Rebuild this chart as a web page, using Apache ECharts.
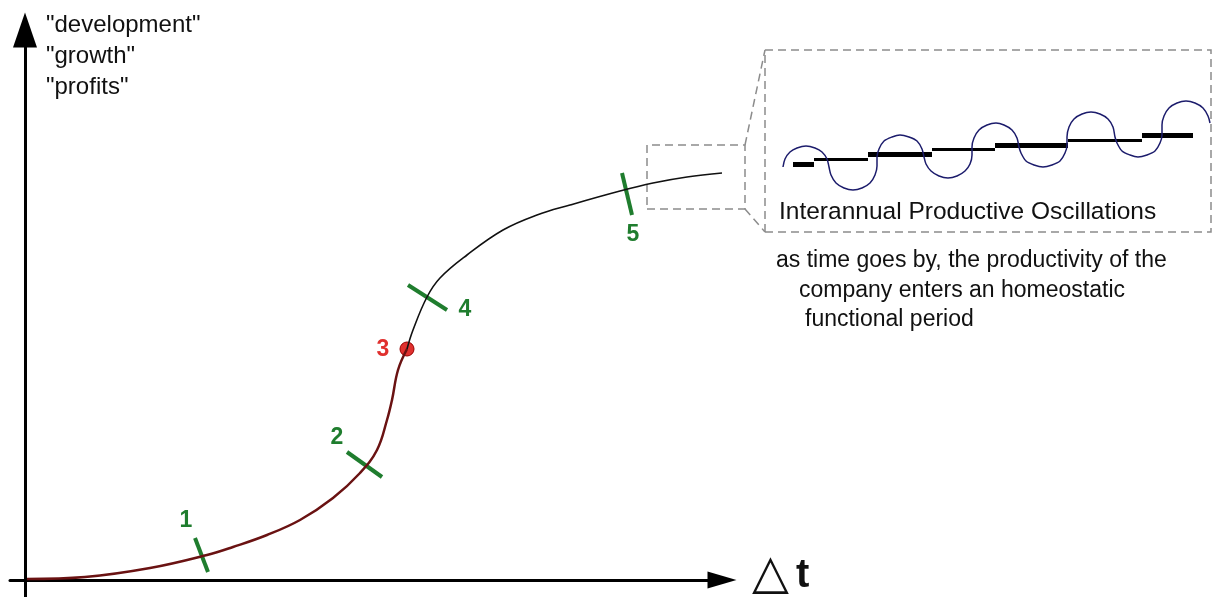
<!DOCTYPE html>
<html>
<head>
<meta charset="utf-8">
<script src="https://cdn.jsdelivr.net/npm/echarts@6/dist/echarts.min.js"></script>
<style>
html, body { margin: 0; padding: 0; background: #fff; }
#main { width: 1214px; height: 597px; }
</style>
</head>
<body>
<div id="main"></div>
<script>
// company life curve: time (x) vs development / growth / profits (y)
// units: 1 unit ~ 1 px of the original drawing, origin at the axes crossing

// rising part of the curve (start -> turning point 3)
var riseX = [2, 60, 125, 182, 208, 242, 275, 308, 335, 352, 362, 367, 373, 382];
var riseY = [1, 3, 12, 25, 33, 45, 60, 82, 107, 130, 160, 180, 210, 231];
// flattening part (turning point 3 -> end)
var plateauX = [382, 388, 402, 415, 442, 478, 512, 545, 595, 628, 662, 697];
var plateauY = [231, 250, 283, 302, 325, 350, 365, 375, 389, 397, 403, 407];

// phase marks crossing the curve: [x1, y1, x2, y2]
var phaseTicks = [
    [170, 42, 183, 8],
    [322, 128, 357, 103],
    [383, 295, 422, 270],
    [597, 407, 607, 365]
];
var phaseNames = ['1', '2', '3', '4', '5'];
var phaseLabelX = [161, 312, 358, 440, 608];
var phaseLabelY = [59, 142, 230, 270, 345];
var turningPoint = [382, 231];

// inset: interannual oscillations (chain of loops)
var waveX = [758, 760, 765, 772, 781, 790, 797, 802, 804,
             806, 811, 819, 828, 837, 845, 850, 852,
             852, 854, 859, 867, 875, 884, 892, 897, 899,
             901, 906, 914, 923, 932, 940, 945, 947,
             947, 949, 954, 962, 971, 979, 987, 992, 994,
             996, 1001, 1009, 1018, 1027, 1035, 1040, 1042,
             1042, 1044, 1049, 1057, 1066, 1075, 1083, 1088, 1090,
             1092, 1097, 1105, 1113, 1122, 1130, 1135, 1137,
             1137, 1139, 1144, 1152, 1161, 1170, 1178, 1183, 1185];
var waveY = [413, 421, 428, 432, 434, 432, 428, 421, 413,
             405, 397, 392, 390, 392, 397, 405, 414,
             423, 431, 439, 443, 445, 443, 439, 431, 423,
             416, 409, 404, 402, 404, 409, 416, 425,
             433, 442, 450, 455, 457, 455, 450, 442, 433,
             427, 419, 415, 413, 415, 419, 427, 435,
             443, 453, 461, 466, 468, 466, 461, 453, 443,
             437, 429, 425, 423, 425, 429, 437, 445,
             455, 464, 472, 477, 479, 477, 472, 464, 457];
// yearly levels: [xStart, xEnd, level]
var stepThick = [[768, 789, 416], [843, 907, 426], [970, 1043, 435], [1117, 1168, 445]];
var stepThin = [[789, 843, 421], [907, 970, 431], [1043, 1117, 440]];

// zoom frame on the curve and the enlarged frame: [x0, x1, y0, y1]
var zoomBox = [622, 720, 371, 435];
var insetBox = [740, 1186, 348, 530];

var GREEN = '#1f7d2e';
var RED = '#e0302e';
var FONT = 'Liberation Sans';

function pairs(xs, ys) {
    return xs.map(function (x, i) { return [x, ys[i]]; });
}
function rect(b) {
    return [[b[0], b[2]], [b[1], b[2]], [b[1], b[3]], [b[0], b[3]], [b[0], b[2]]];
}

var dom = document.getElementById('main');
var myChart = echarts.init(dom);

var tickData = phaseTicks.map(function (t) {
    return {coords: [[t[0], t[1]], [t[2], t[3]]]};
});
var labelData = phaseNames.map(function (n, i) {
    return {
        value: [phaseLabelX[i], phaseLabelY[i]],
        name: n,
        label: {color: n === '3' ? RED : GREEN}
    };
});
var stepData = function (arr) {
    return arr.map(function (s) { return {coords: [[s[0], s[2]], [s[1], s[2]]]}; });
};

var option = {
    animation: false,
    backgroundColor: '#fff',
    grid: [
        {left: 10, right: 492, top: 30, bottom: 0},
        {left: 0, right: 0, top: 0, bottom: 0}
    ],
    xAxis: [
        {
            type: 'value', gridIndex: 0, min: -15, max: 697,
            axisLine: {show: true, onZero: true, symbol: ['none', 'triangle'], symbolSize: [17, 29],
                lineStyle: {color: '#000', width: 3}},
            axisTick: {show: false}, axisLabel: {show: false}, splitLine: {show: false}
        },
        {type: 'value', gridIndex: 1, min: -25, max: 1189, show: false}
    ],
    yAxis: [
        {
            type: 'value', gridIndex: 0, min: -17, max: 550,
            axisLine: {show: true, onZero: true, symbol: ['none', 'triangle'], symbolSize: [24, 35],
                lineStyle: {color: '#000', width: 3}},
            axisTick: {show: false}, axisLabel: {show: false}, splitLine: {show: false}
        },
        {type: 'value', gridIndex: 1, min: -17, max: 580, show: false}
    ],
    series: [
        {
            type: 'line', xAxisIndex: 0, yAxisIndex: 0,
            data: pairs(riseX, riseY), smooth: 0.4, showSymbol: false,
            lineStyle: {color: '#6a1212', width: 2.5}
        },
        {
            type: 'line', xAxisIndex: 0, yAxisIndex: 0,
            data: pairs(plateauX, plateauY), smooth: 0.4, showSymbol: false,
            lineStyle: {color: '#111', width: 1.6}
        },
        {
            type: 'lines', coordinateSystem: 'cartesian2d', xAxisIndex: 0, yAxisIndex: 0,
            data: tickData,
            lineStyle: {color: GREEN, width: 4, opacity: 1, curveness: 0}
        },
        {
            type: 'scatter', xAxisIndex: 0, yAxisIndex: 0,
            data: [turningPoint], symbolSize: 14,
            itemStyle: {color: RED, borderColor: '#900', borderWidth: 1, opacity: 1}
        },
        {
            type: 'scatter', xAxisIndex: 0, yAxisIndex: 0,
            data: labelData, symbolSize: 1,
            itemStyle: {color: '#fff', opacity: 0},
            label: {show: true, position: 'inside', formatter: '{b}', opacity: 1,
                fontFamily: FONT, fontWeight: 'bold', fontSize: 23}
        },
        // zoom frames and connectors
        {
            type: 'lines', coordinateSystem: 'cartesian2d', xAxisIndex: 1, yAxisIndex: 1,
            polyline: true,
            data: [
                {coords: rect(zoomBox)},
                {coords: rect(insetBox)},
                {coords: [[zoomBox[1], zoomBox[3]], [insetBox[0], insetBox[3]]]},
                {coords: [[zoomBox[1], zoomBox[2]], [insetBox[0], insetBox[2]]]}
            ],
            lineStyle: {color: '#8c8c8c', width: 1.5, type: [8, 5], opacity: 1, curveness: 0}
        },
        {
            type: 'line', xAxisIndex: 1, yAxisIndex: 1,
            data: pairs(waveX, waveY), smooth: 0.3, showSymbol: false,
            lineStyle: {color: '#1c1c6c', width: 1.5}
        },
        {
            type: 'lines', coordinateSystem: 'cartesian2d', xAxisIndex: 1, yAxisIndex: 1,
            data: stepData(stepThin),
            lineStyle: {color: '#000', width: 3, opacity: 1, curveness: 0}
        },
        {
            type: 'lines', coordinateSystem: 'cartesian2d', xAxisIndex: 1, yAxisIndex: 1,
            data: stepData(stepThick),
            lineStyle: {color: '#000', width: 5, opacity: 1, curveness: 0}
        }
    ],
    graphic: [
        {
            type: 'text', left: 46, top: 10,
            style: {text: '"development"\n"growth"\n"profits"', fontFamily: FONT, fontSize: 24,
                lineHeight: 31, fill: '#111'}
        },
        {
            type: 'text', left: 779, top: 200,
            style: {text: 'Interannual Productive Oscillations', fontFamily: FONT, fontSize: 24.5, fill: '#111'}
        },
        {
            type: 'text', left: 776, top: 249,
            style: {text: 'as time goes by, the productivity of the', fontFamily: FONT, fontSize: 23, fill: '#111'}
        },
        {
            type: 'text', left: 799, top: 279,
            style: {text: 'company enters an homeostatic', fontFamily: FONT, fontSize: 23, fill: '#111'}
        },
        {
            type: 'text', left: 805, top: 308,
            style: {text: 'functional period', fontFamily: FONT, fontSize: 23, fill: '#111'}
        },
        {
            type: 'text', left: 752, top: 552,
            style: {
                text: '{a|△}{b|t}',
                rich: {
                    a: {fontFamily: 'DejaVu Sans', fontSize: 48, fill: '#111'},
                    b: {fontFamily: FONT, fontSize: 40, fontWeight: 'bold', fill: '#111', padding: [0, 0, 0, 7]}
                }
            }
        }
    ]
};

myChart.setOption(option, true);
</script>
</body>
</html>
